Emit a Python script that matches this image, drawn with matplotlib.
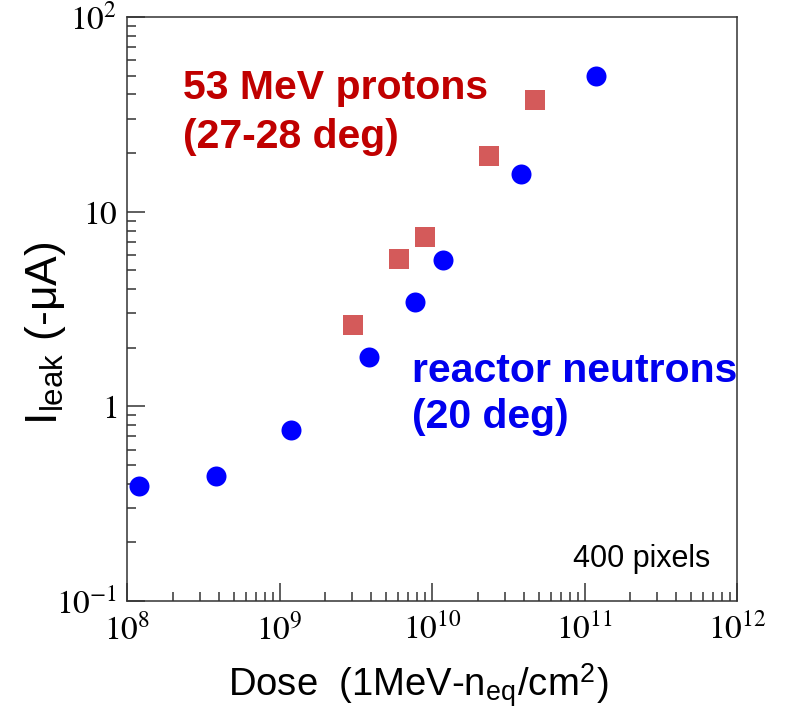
import numpy as np
import matplotlib
matplotlib.use("Agg")
import matplotlib.pyplot as plt
from matplotlib.ticker import LogLocator, FixedLocator, FixedFormatter, NullFormatter

plt.rcParams["font.family"] = ["Liberation Sans", "DejaVu Sans"]
plt.rcParams["mathtext.fontset"] = "stix"

# reactor neutrons (20 deg)
neutron_dose = [1.2e8, 3.85e8, 1.19e9, 3.86e9, 7.75e9, 1.18e10, 3.84e10, 1.19e11]
neutron_ileak = [0.39, 0.44, 0.755, 1.79, 3.43, 5.64, 15.6, 49.5]

# 53 MeV protons (27-28 deg)
proton_dose = [3.03e9, 6.08e9, 9.0e9, 2.37e10, 4.73e10]
proton_ileak = [2.62, 5.7, 7.4, 19.4, 37.5]

x_ticks = [1e8, 1e9, 1e10, 1e11, 1e12]
x_ticklabels = ["$10^{8}$", "$10^{9}$", "$10^{10}$", "$10^{11}$", "$10^{12}$"]
y_ticks = [0.1, 1, 10, 100]
y_ticklabels = ["$10^{-1}$", "$1$", "$10$", "$10^{2}$"]

W, H = 785, 717
fig = plt.figure(figsize=(W / 100, H / 100), dpi=100)
ax = fig.add_axes([127 / W, 1 - 601 / H, 610 / W, 584 / H])

ax.plot(neutron_dose, neutron_ileak, "o", color="#0000ff", ms=14.4, mew=0)
ax.plot(proton_dose, proton_ileak, "s", color="#d45a5a", ms=14.2, mew=0)

ax.set_xscale("log")
ax.set_yscale("log")
ax.set_xlim(1e8, 1e12)
ax.set_ylim(0.1, 100)

ax.xaxis.set_major_locator(FixedLocator(x_ticks))
ax.xaxis.set_major_formatter(FixedFormatter(x_ticklabels))
ax.yaxis.set_major_locator(FixedLocator(y_ticks))
ax.yaxis.set_major_formatter(FixedFormatter(y_ticklabels))
ax.xaxis.set_minor_locator(LogLocator(base=10, subs=np.arange(2, 10)))
ax.yaxis.set_minor_locator(LogLocator(base=10, subs=np.arange(2, 10)))
ax.xaxis.set_minor_formatter(NullFormatter())
ax.yaxis.set_minor_formatter(NullFormatter())

ax.tick_params(which="both", direction="in", color="#333333", width=1.1,
               top=False, right=False)
ax.tick_params(which="major", length=13)
ax.tick_params(which="minor", length=6.5)
ax.tick_params(axis="x", labelsize=24, pad=9)
ax.tick_params(axis="y", labelsize=24, pad=7)
for sp in ax.spines.values():
    sp.set_color("#333333")
    sp.set_linewidth(1.1)

def px(x, y):
    return x / W, 1 - y / H

fig.text(*px(183, 99), "53 MeV protons", color="#c00000", fontsize=29.5,
         fontweight="bold", ha="left", va="baseline")
fig.text(*px(183, 148), "(27-28 deg)", color="#c00000", fontsize=29.5,
         fontweight="bold", ha="left", va="baseline")
fig.text(*px(412, 382), "reactor neutrons", color="#0000ee", fontsize=29.5,
         fontweight="bold", ha="left", va="baseline")
fig.text(*px(412, 428), "(20 deg)", color="#0000ee", fontsize=29.5,
         fontweight="bold", ha="left", va="baseline")
fig.text(*px(573, 567), "400 pixels", color="black", fontsize=22,
         ha="left", va="baseline")

fig.text(*px(228, 697), r"Dose  (1MeV-n$_{\mathregular{eq}}$/cm$^{\mathregular{2}}$)",
         fontsize=27.5, ha="left", va="baseline")
fig.text(*px(46, 333), r"I$_{\mathregular{leak}}$ (-μA)", fontsize=32,
         rotation=90, ha="center", va="center")

fig.savefig("out.png", dpi=100)
